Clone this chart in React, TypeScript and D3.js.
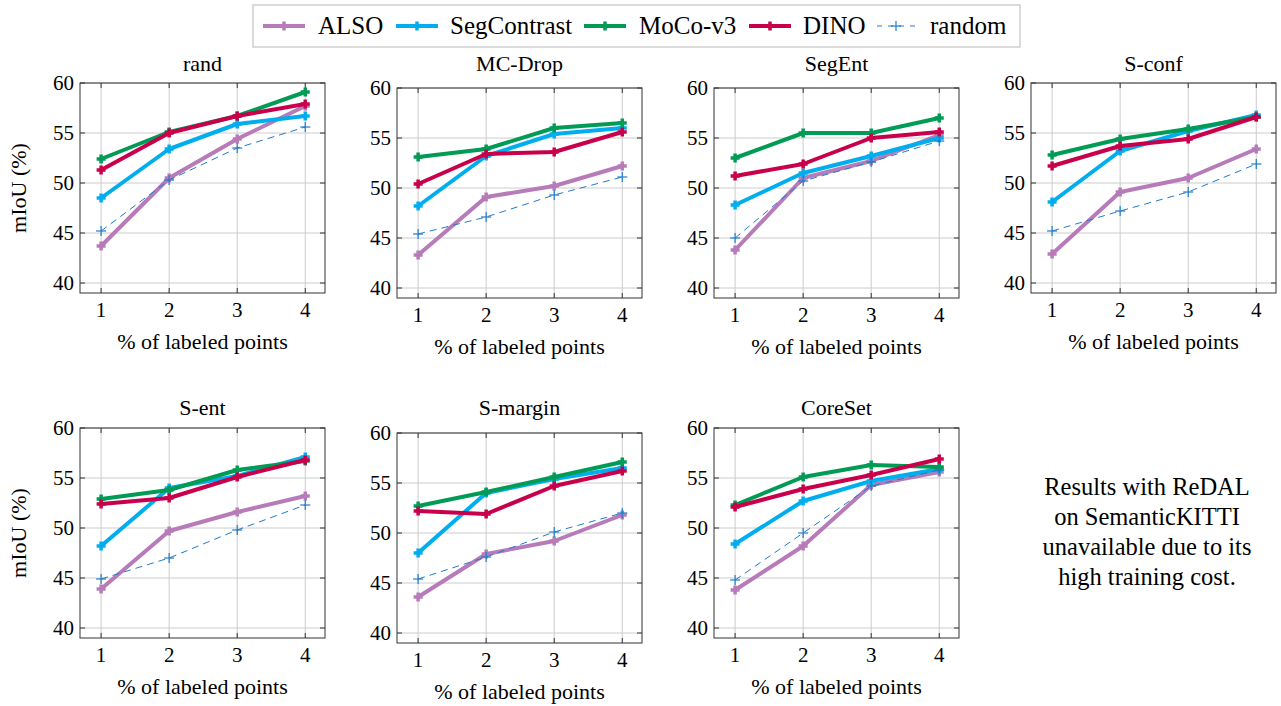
import React from "react";
import * as d3 from "d3";

// ---------- data ----------
const panelTitles = ["rand", "MC-Drop", "SegEnt", "S-conf", "S-ent", "S-margin", "CoreSet"];
const xTicks = [1, 2, 3, 4];
const yTicks = [40, 45, 50, 55, 60];
const seriesNames = ["ALSO", "SegContrast", "MoCo-v3", "DINO", "random"];

// one row per panel, values at 1,2,3,4 % labeled points
const ALSO = [
  [43.7, 50.5, 54.4, 57.7],
  [43.3, 49.1, 50.2, 52.2],
  [43.8, 51.0, 52.7, 55.3],
  [42.9, 49.1, 50.5, 53.4],
  [43.9, 49.7, 51.6, 53.2],
  [43.6, 47.9, 49.2, 51.8],
  [43.8, 48.2, 54.3, 55.6],
];
const SegContrast = [
  [48.5, 53.4, 55.9, 56.7],
  [48.2, 53.2, 55.4, 56.0],
  [48.3, 51.5, 53.2, 55.0],
  [48.1, 53.2, 55.2, 56.8],
  [48.2, 54.0, 55.2, 57.1],
  [48.0, 54.0, 55.4, 56.5],
  [48.4, 52.7, 54.7, 55.9],
];
const MoCoV3 = [
  [52.4, 55.1, 56.7, 59.1],
  [53.1, 53.9, 56.0, 56.5],
  [53.0, 55.5, 55.5, 57.0],
  [52.8, 54.4, 55.4, 56.6],
  [52.9, 53.8, 55.8, 56.7],
  [52.7, 54.1, 55.6, 57.1],
  [52.3, 55.1, 56.3, 56.1],
];
const DINO = [
  [51.3, 55.0, 56.7, 57.9],
  [50.4, 53.4, 53.6, 55.6],
  [51.2, 52.4, 55.0, 55.6],
  [51.7, 53.7, 54.4, 56.6],
  [52.4, 53.0, 55.1, 56.8],
  [52.2, 51.9, 54.7, 56.2],
  [52.1, 53.9, 55.3, 56.9],
];
const randomBase = [
  [45.2, 50.3, 53.5, 55.6],
  [45.4, 47.1, 49.3, 51.1],
  [45.0, 50.7, 52.6, 54.7],
  [45.2, 47.2, 49.1, 51.9],
  [44.9, 47.0, 49.8, 52.3],
  [45.4, 47.6, 50.1, 52.0],
  [44.8, 49.5, 54.2, 55.8],
];
const noteLines = ["Results with ReDAL", "on SemanticKITTI", "unavailable due to its", "high training cost."];

// ---------- styles / layout ----------
const seriesData = [ALSO, SegContrast, MoCoV3, DINO, randomBase];
const seriesStyle = [
  { color: "#b77bb9", width: 4, dash: null, mk: 4.5, mkw: 3.5 },
  { color: "#00aeef", width: 4, dash: null, mk: 4.5, mkw: 3.5 },
  { color: "#009b55", width: 4, dash: null, mk: 4.5, mkw: 3.5 },
  { color: "#c8004b", width: 4, dash: null, mk: 4.5, mkw: 3.5 },
  { color: "#1f7bcc", width: 1, dash: "7 5", mk: 5, mkw: 1.2 },
];
const panelPos = [
  { l: 80, t: 83, ty: 71 },
  { l: 397, t: 88, ty: 71 },
  { l: 714, t: 88, ty: 71 },
  { l: 1031, t: 83, ty: 71 },
  { l: 80, t: 428, ty: 415 },
  { l: 397, t: 433, ty: 415 },
  { l: 714, t: 428, ty: 415 },
];
const PW = 245;
const PH = 210;
const legendX = [
  { line: 263, text: 318 },
  { line: 396, text: 450 },
  { line: 584, text: 639 },
  { line: 749, text: 803 },
  { line: 877, text: 930 },
];
const SERIF = "'Times New Roman', Times, Tinos, 'DejaVu Serif', serif";

function Plus({ x, y, s, w, color }: { x: number; y: number; s: number; w: number; color: string }) {
  return (
    <g stroke={color} strokeWidth={w}>
      <line x1={x - s} x2={x + s} y1={y} y2={y} />
      <line x1={x} x2={x} y1={y - s} y2={y + s} />
    </g>
  );
}

function Panel({ idx }: { idx: number }) {
  const p = panelPos[idx];
  const x = d3.scaleLinear().domain([0.69, 4.29]).range([p.l, p.l + PW]);
  const y = d3.scaleLinear().domain([39, 60]).range([p.t + PH, p.t]);
  const line = d3
    .line<number>()
    .x((_, i) => x(xTicks[i]))
    .y((d) => y(d));
  const bottom = p.t + PH;
  const tickLen = 5;
  return (
    <g>
      {xTicks.map((t) => (
        <line key={"gx" + t} x1={x(t)} x2={x(t)} y1={p.t} y2={bottom} stroke="#cccccc" strokeWidth={1} />
      ))}
      {yTicks.map((t) => (
        <line key={"gy" + t} x1={p.l} x2={p.l + PW} y1={y(t)} y2={y(t)} stroke="#cccccc" strokeWidth={1} />
      ))}
      {xTicks.map((t) => (
        <g key={"tx" + t} stroke="#333" strokeWidth={1}>
          <line x1={x(t)} x2={x(t)} y1={bottom} y2={bottom - tickLen} />
          <line x1={x(t)} x2={x(t)} y1={p.t} y2={p.t + tickLen} />
        </g>
      ))}
      {yTicks.map((t) => (
        <g key={"ty" + t} stroke="#333" strokeWidth={1}>
          <line x1={p.l} x2={p.l + tickLen} y1={y(t)} y2={y(t)} />
          <line x1={p.l + PW} x2={p.l + PW - tickLen} y1={y(t)} y2={y(t)} />
        </g>
      ))}
      {seriesData.map((sd, si) => {
        const st = seriesStyle[si];
        const vals = sd[idx];
        return (
          <g key={"s" + si}>
            <path
              d={line(vals) || ""}
              fill="none"
              stroke={st.color}
              strokeWidth={st.width}
              strokeDasharray={st.dash || undefined}
              strokeLinejoin="round"
            />
            {vals.map((v, i) => (
              <Plus key={i} x={x(xTicks[i])} y={y(v)} s={st.mk} w={st.mkw} color={st.color} />
            ))}
          </g>
        );
      })}
      <rect x={p.l} y={p.t} width={PW} height={PH} fill="none" stroke="#333" strokeWidth={1} />
      {xTicks.map((t) => (
        <text key={"lx" + t} x={x(t)} y={bottom + 24} textAnchor="middle" fontSize={21}>
          {t}
        </text>
      ))}
      {yTicks.map((t) => (
        <text key={"ly" + t} x={p.l - 6} y={y(t)} dy="0.35em" textAnchor="end" fontSize={21}>
          {t}
        </text>
      ))}
      <text x={p.l + PW / 2} y={p.ty} textAnchor="middle" fontSize={22}>
        {panelTitles[idx]}
      </text>
      <text x={p.l + PW / 2} y={bottom + 56} textAnchor="middle" fontSize={22}>
        % of labeled points
      </text>
      {idx % 4 === 0 && (
        <text transform={`translate(26, ${p.t + PH / 2}) rotate(-90)`} textAnchor="middle" fontSize={22}>
          mIoU (%)
        </text>
      )}
    </g>
  );
}

function Legend() {
  return (
    <g>
      <rect x={253} y={5} width={767} height={42} fill="white" stroke="#cfcfcf" strokeWidth={1.5} />
      {seriesNames.map((n, i) => {
        const st = seriesStyle[i];
        const lx = legendX[i];
        const len = i === 4 ? 38 : 42;
        const cy = 26;
        return (
          <g key={n}>
            <line
              x1={lx.line}
              x2={lx.line + len}
              y1={cy}
              y2={cy}
              stroke={st.color}
              strokeWidth={st.width}
              strokeDasharray={st.dash ? "5 6" : undefined}
            />
            <Plus x={lx.line + len / 2} y={cy} s={st.mk} w={st.mkw} color={st.color} />
            <text x={lx.text} y={34} fontSize={25}>
              {n}
            </text>
          </g>
        );
      })}
    </g>
  );
}

export default function App() {
  return (
    <svg
      width={1281}
      height={706}
      fontFamily={SERIF}
      style={{ position: "absolute", left: 0, top: 0, background: "white" }}
    >
      <rect width={1281} height={706} fill="white" />
      <Legend />
      {panelTitles.map((_, i) => (
        <Panel key={i} idx={i} />
      ))}
      {noteLines.map((l, i) => (
        <text key={i} x={1147} y={495 + i * 30} textAnchor="middle" fontSize={24.5}>
          {l}
        </text>
      ))}
    </svg>
  );
}
